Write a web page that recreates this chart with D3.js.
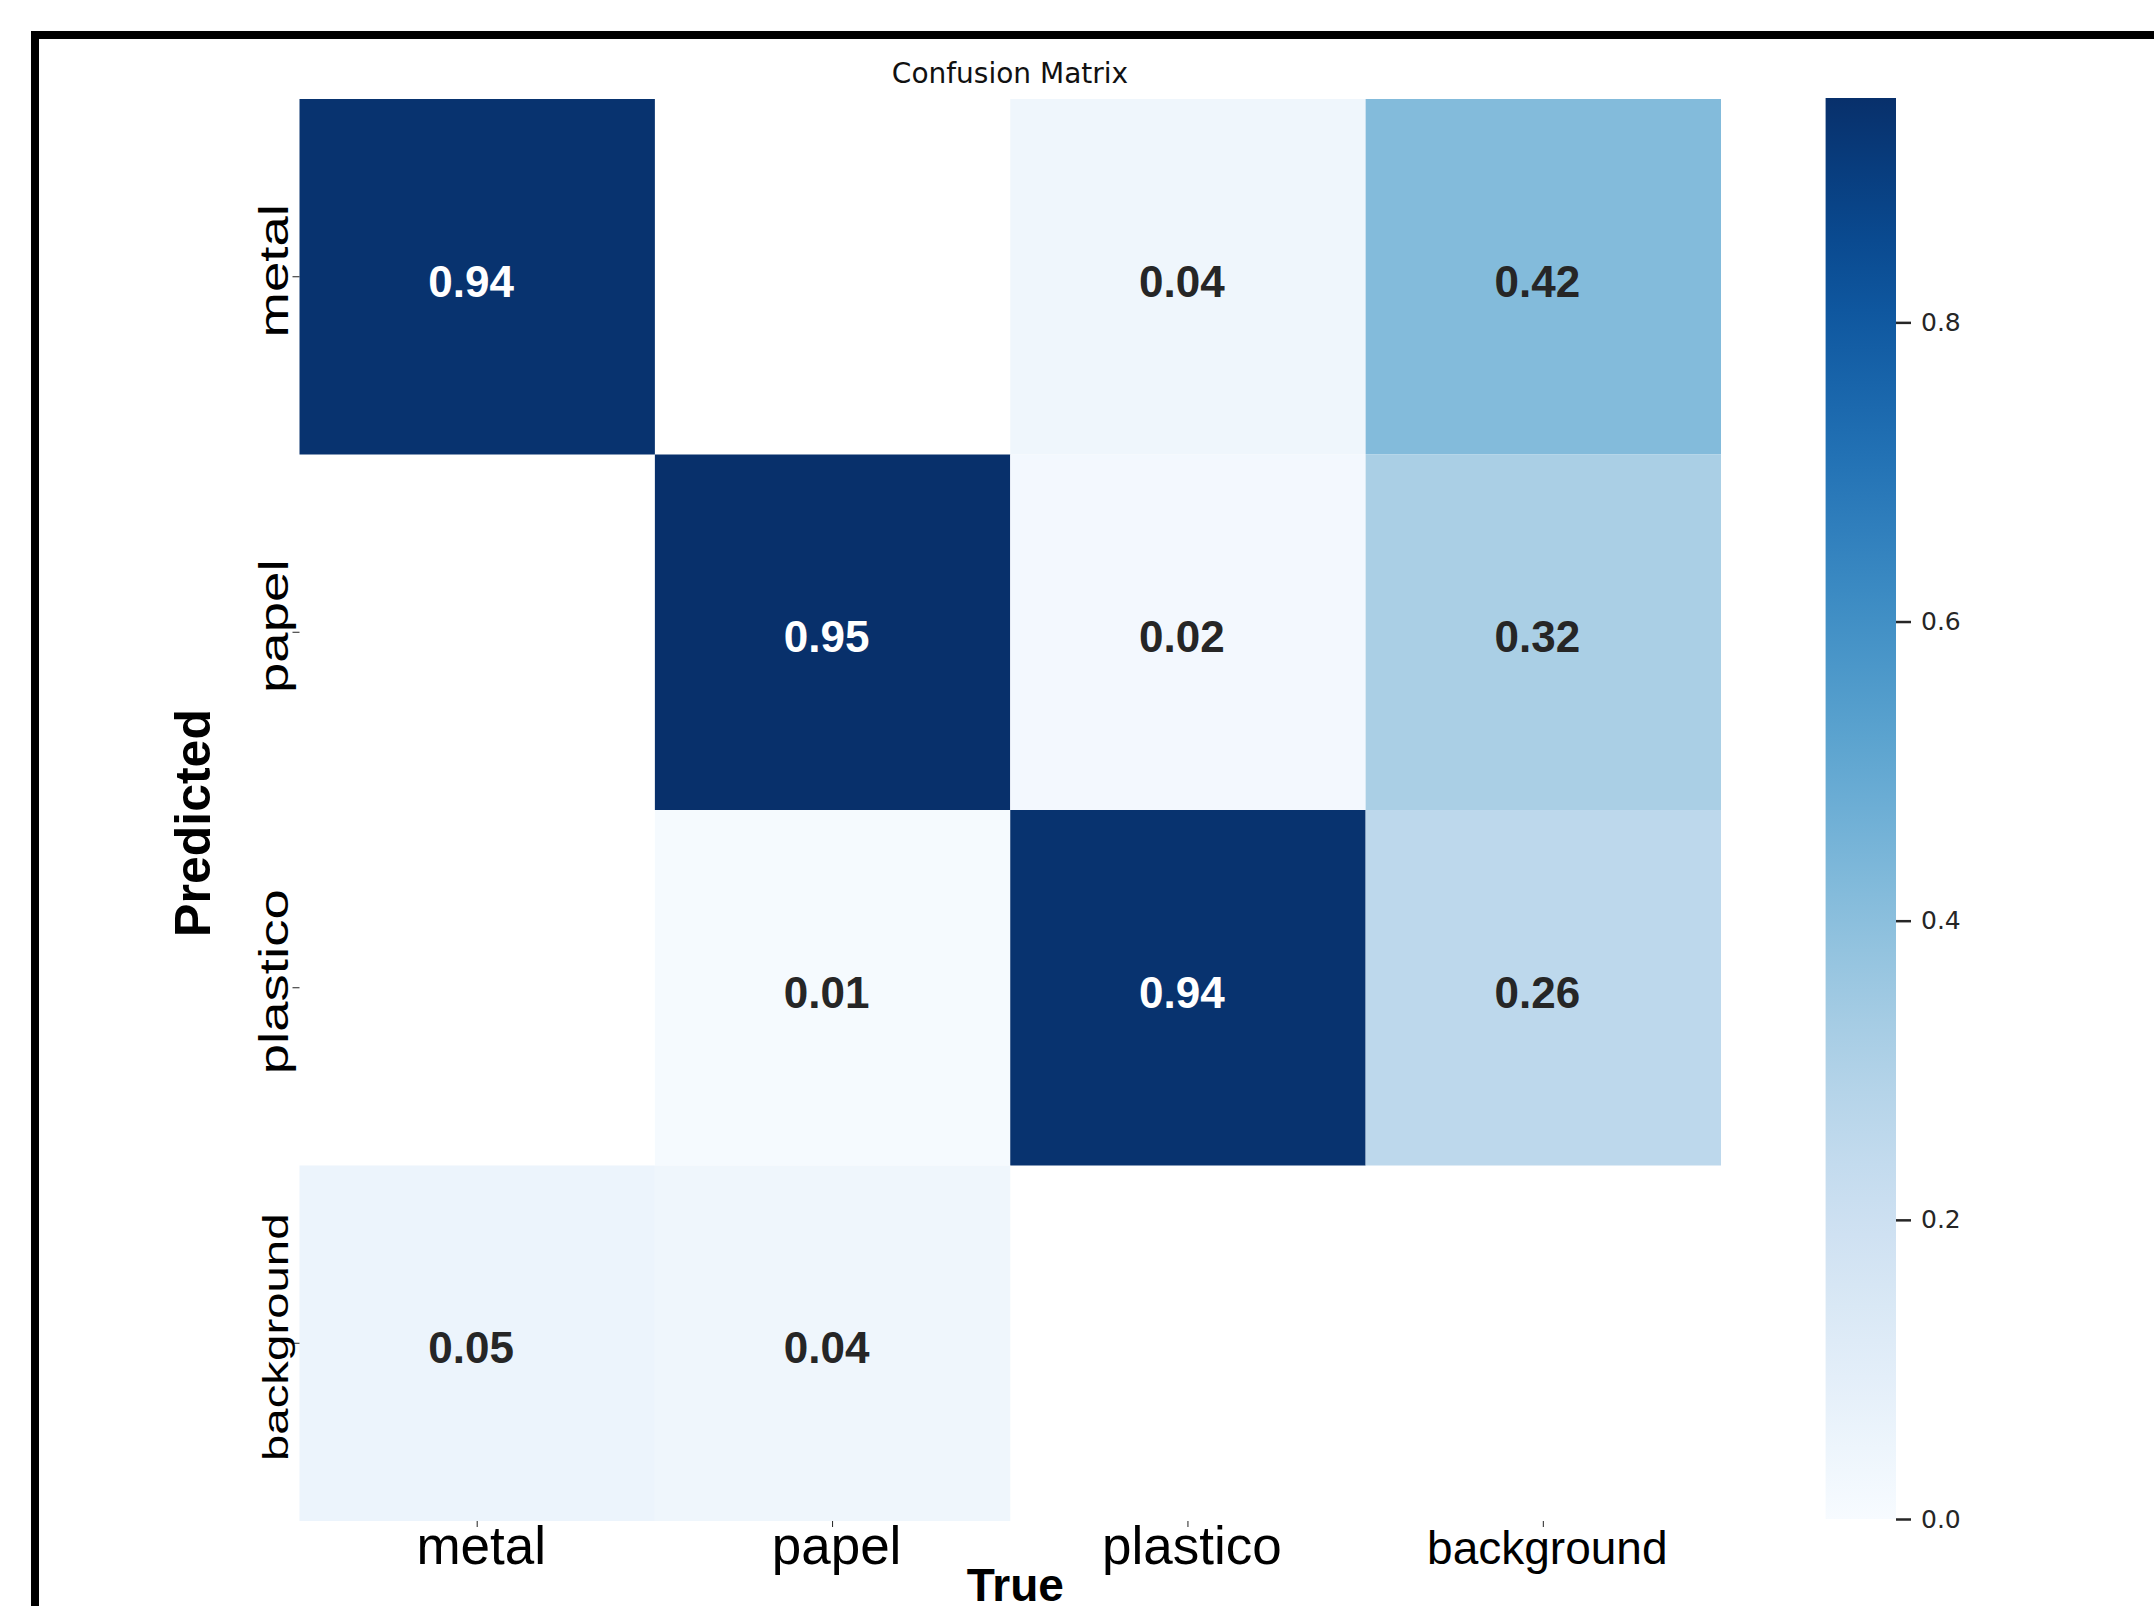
<!DOCTYPE html>
<meta charset="utf-8">
<style>
body {
  margin: 0;
  background: #fff;
}
.cell-label {
  font-family: "Liberation Sans", Arial, sans-serif;
  font-weight: bold;
}
.tick-label {
  font-family: "Liberation Sans", Arial, sans-serif;
  fill: #000;
}
.cbar text {
  font-family: "DejaVu Sans", sans-serif;
  fill: #262626;
}
</style>
<body>
<script src="https://d3js.org/d3.v7.min.js"></script>
<script>
// rows = Predicted, columns = True; null = empty (masked) cell
var predictedLabels = ["metal", "papel", "plastico", "background"];
var trueLabels = ["metal", "papel", "plastico", "background"];
var rowMetal = [0.94, null, 0.04, 0.42];
var rowPapel = [null, 0.95, 0.02, 0.32];
var rowPlastico = [null, 0.01, 0.94, 0.26];
var rowBackground = [0.05, 0.04, null, null];
var colorbarTicks = [0.0, 0.2, 0.4, 0.6, 0.8];
var colorMax = 0.95;

var matrix = [rowMetal, rowPapel, rowPlastico, rowBackground];

var width = 2154,
    height = 1606;

var svg = d3.select("body")
    .append("svg")
    .attr("width", width)
    .attr("height", height);

// outer black frame (runs off right / bottom edge)
svg.append("rect")
    .attr("x", 35)
    .attr("y", 35)
    .attr("width", width)
    .attr("height", height)
    .attr("fill", "none")
    .attr("stroke", "#000")
    .attr("stroke-width", 8);

var hm = {left: 299.5, top: 99, right: 1721, bottom: 1521};

var x = d3.scaleBand()
    .domain(trueLabels)
    .range([hm.left, hm.right]);

var y = d3.scaleBand()
    .domain(predictedLabels)
    .range([hm.top, hm.bottom]);

var color = d3.scaleSequential(d3.interpolateBlues)
    .domain([0, colorMax]);

var cells = [];
matrix.forEach(function(row, i) {
  row.forEach(function(v, j) {
    cells.push({row: predictedLabels[i], col: trueLabels[j], value: v});
  });
});

var filled = cells.filter(function(d) { return d.value !== null; });

svg.append("g")
  .selectAll("rect")
  .data(filled)
  .enter().append("rect")
    .attr("x", function(d) { return x(d.col); })
    .attr("y", function(d) { return y(d.row); })
    .attr("width", x.bandwidth())
    .attr("height", y.bandwidth())
    .attr("fill", function(d) { return color(d.value); });

svg.append("g")
  .selectAll("text")
  .data(filled)
  .enter().append("text")
    .attr("class", "cell-label")
    .attr("x", function(d) { return x(d.col) + x.bandwidth() / 2 - 6; })
    .attr("y", function(d) { return y(d.row) + y.bandwidth() / 2 + 4; })
    .attr("dy", "0.36em")
    .attr("text-anchor", "middle")
    .attr("font-size", 44)
    .attr("fill", function(d) { return d.value > 0.5 ? "#fff" : "#262626"; })
    .text(function(d) { return d3.format(".2f")(d.value); });

function labelSize(s) { return s.length > 8 ? 46 : 53; }

// x axis (True)
var xAxis = svg.append("g")
    .attr("transform", "translate(0," + hm.bottom + ")")
    .call(d3.axisBottom(x).tickSize(6).tickFormat(""));
xAxis.select(".domain").remove();
xAxis.selectAll("line").attr("stroke", "#222");

svg.append("g")
  .selectAll("text")
  .data(trueLabels)
  .enter().append("text")
    .attr("class", "tick-label")
    .attr("x", function(d) { return x(d) + x.bandwidth() / 2 + 4; })
    .attr("y", 1564)
    .attr("text-anchor", "middle")
    .attr("font-size", labelSize)
    .text(function(d) { return d; });

// y axis (Predicted)
var yAxis = svg.append("g")
    .attr("transform", "translate(" + hm.left + ",0)")
    .call(d3.axisLeft(y).tickSize(7).tickFormat(""));
yAxis.select(".domain").remove();
yAxis.selectAll("line").attr("stroke", "#222");

svg.append("g")
  .selectAll("text")
  .data(predictedLabels)
  .enter().append("text")
    .attr("class", "tick-label")
    .attr("transform", function(d) {
      return "translate(288," + (y(d) + y.bandwidth() / 2 - 6) + ") rotate(-90) scale(1.03,0.78)";
    })
    .attr("text-anchor", "middle")
    .attr("font-size", labelSize)
    .text(function(d) { return d; });

// axis titles
svg.append("text")
    .attr("class", "tick-label")
    .attr("transform", "translate(210," + ((hm.top + hm.bottom) / 2 + 13) + ") rotate(-90)")
    .attr("text-anchor", "middle")
    .attr("font-size", 50)
    .attr("font-weight", "bold")
    .text("Predicted");

svg.append("text")
    .attr("class", "tick-label")
    .attr("x", (hm.left + hm.right) / 2 + 5)
    .attr("y", 1601)
    .attr("text-anchor", "middle")
    .attr("font-size", 46)
    .attr("font-weight", "bold")
    .text("True");

svg.append("text")
    .attr("x", 1010)
    .attr("y", 83)
    .attr("text-anchor", "middle")
    .attr("font-family", "DejaVu Sans, sans-serif")
    .attr("font-size", 28)
    .attr("fill", "#111")
    .text("Confusion Matrix");

// colorbar
var cb = {x: 1825.6, w: 70.4};
var cbY = d3.scaleLinear()
    .domain([0, colorMax])
    .range([hm.bottom - 2, hm.top - 1]);

var grad = svg.append("defs").append("linearGradient")
    .attr("id", "cbgrad")
    .attr("x1", 0).attr("y1", 1)
    .attr("x2", 0).attr("y2", 0);
grad.selectAll("stop")
  .data(d3.range(0, 1.0001, 0.05))
  .enter().append("stop")
    .attr("offset", function(t) { return t; })
    .attr("stop-color", function(t) { return color(t * colorMax); });

svg.append("rect")
    .attr("x", cb.x)
    .attr("y", cbY(colorMax))
    .attr("width", cb.w)
    .attr("height", cbY(0) - cbY(colorMax))
    .attr("fill", "url(#cbgrad)");

var cbAxis = svg.append("g")
    .attr("class", "cbar")
    .attr("transform", "translate(" + (cb.x + cb.w) + ",0)")
    .call(d3.axisRight(cbY).tickValues(colorbarTicks).tickSize(15).tickPadding(10).tickFormat(d3.format(".1f")));
cbAxis.select(".domain").remove();
cbAxis.selectAll("line").attr("stroke", "#262626").attr("stroke-width", 2.5);
cbAxis.selectAll("text").attr("font-size", 25);
</script>
</body>
